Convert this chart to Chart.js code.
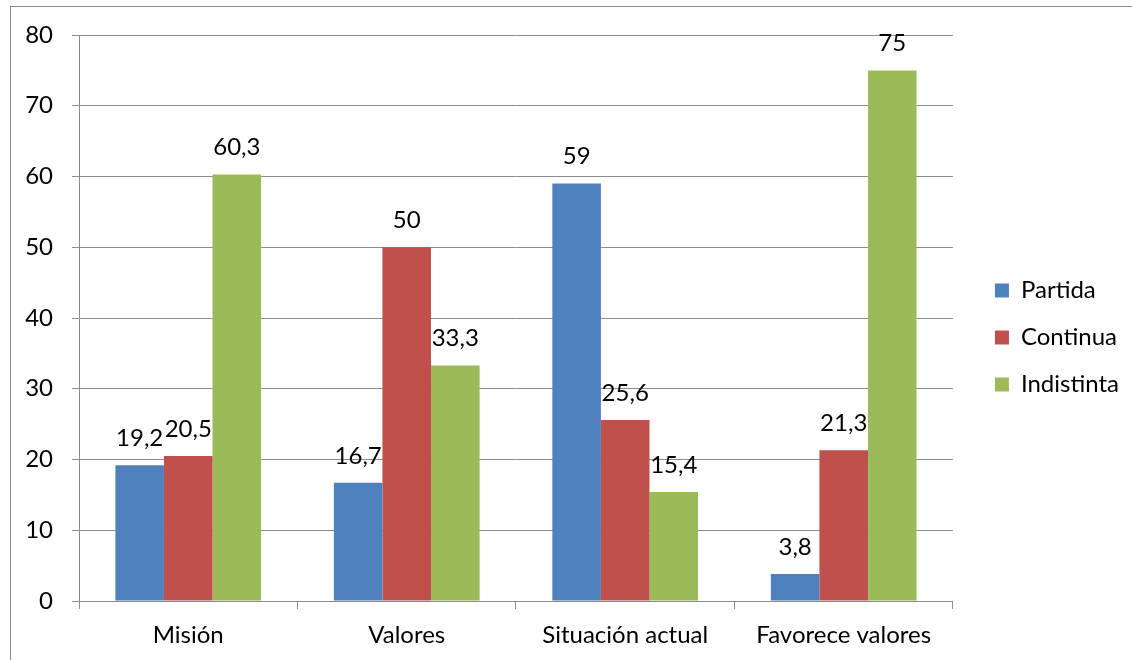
<!DOCTYPE html>
<html>
<head>
<meta charset="utf-8">
<script src="https://cdn.jsdelivr.net/npm/chart.js@4"></script>
<style>
  html, body { margin: 0; padding: 0; background: #fff; overflow: hidden; }
  #frame { position: absolute; left: 10px; top: 6px; width: 1140px; height: 680px; border: 1px solid #8c8c8c; }
  #wrap { position: absolute; left: 0; top: 0; width: 1132px; height: 660px; }
</style>
</head>
<body>
<div id="frame"></div>
<div id="wrap"><canvas id="chart" width="1132" height="660"></canvas></div>
<script>
const categories = ['Misión', 'Valores', 'Situación actual', 'Favorece valores'];
const seriesNames = ['Partida', 'Continua', 'Indistinta'];
const partida = [19.2, 16.7, 59, 3.8];
const continua = [20.5, 50, 25.6, 21.3];
const indistinta = [60.3, 33.3, 15.4, 75];
const yTicks = [0, 10, 20, 30, 40, 50, 60, 70, 80];

const colors = ['#4F81BD', '#C0504D', '#9BBB59'];
const fontFamily = 'Lato, "Open Sans", sans-serif';
const fontSize = 24;

// value labels above each bar, decimal comma
const valueLabels = {
    id: 'valueLabels',
    afterDatasetsDraw(chart) {
        const ctx = chart.ctx;
        ctx.save();
        ctx.font = fontSize + 'px ' + fontFamily;
        ctx.fillStyle = '#000';
        ctx.textAlign = 'center';
        ctx.textBaseline = 'middle';
        chart.data.datasets.forEach((ds, i) => {
            const meta = chart.getDatasetMeta(i);
            meta.data.forEach((bar, j) => {
                const text = String(ds.data[j]).replace('.', ',');
                ctx.fillText(text, bar.x, bar.y - 27);
            });
        });
        ctx.restore();
    }
};

// nudge the legend box a bit right and up
const legendShift = {
    id: 'legendShift',
    afterLayout(chart) {
        const lg = chart.legend;
        if (!lg) return;
        lg.left += 19; lg.right += 19;
        lg.top -= 10; lg.bottom -= 10;
    }
};

const chart = new Chart(document.getElementById('chart'), {
    type: 'bar',
    data: {
        labels: categories,
        datasets: [
            { label: seriesNames[0], data: partida, backgroundColor: colors[0] },
            { label: seriesNames[1], data: continua, backgroundColor: colors[1] },
            { label: seriesNames[2], data: indistinta, backgroundColor: colors[2] }
        ]
    },
    options: {
        responsive: false,
        animation: false,
        layout: { padding: { top: 35, right: 22, left: 0, bottom: 0 } },
        datasets: {
            bar: { categoryPercentage: 0.667, barPercentage: 1.0, borderWidth: 0 }
        },
        plugins: {
            tooltip: { enabled: false },
            legend: {
                position: 'right',
                labels: {
                    font: { family: fontFamily, size: fontSize },
                    color: '#000',
                    boxWidth: 14,
                    boxHeight: 14,
                    padding: 23
                }
            }
        },
        scales: {
            x: {
                afterFit(scale) { scale.height = 59; },
                grid: { drawOnChartArea: false, drawTicks: true, tickLength: 8, color: '#8c8c8c' },
                border: { color: '#8c8c8c' },
                ticks: { font: { family: fontFamily, size: fontSize }, color: '#000', padding: 12 }
            },
            y: {
                min: 0,
                max: 80,
                afterFit(scale) { scale.width = 79; },
                afterBuildTicks(scale) {
                    scale.ticks = yTicks.map(v => ({ value: v }));
                },
                grid: { color: '#8c8c8c', tickLength: 7 },
                border: { color: '#8c8c8c' },
                ticks: { font: { family: fontFamily, size: fontSize }, color: '#000', padding: 19 }
            }
        }
    },
    plugins: [valueLabels, legendShift]
});
</script>
</body>
</html>
